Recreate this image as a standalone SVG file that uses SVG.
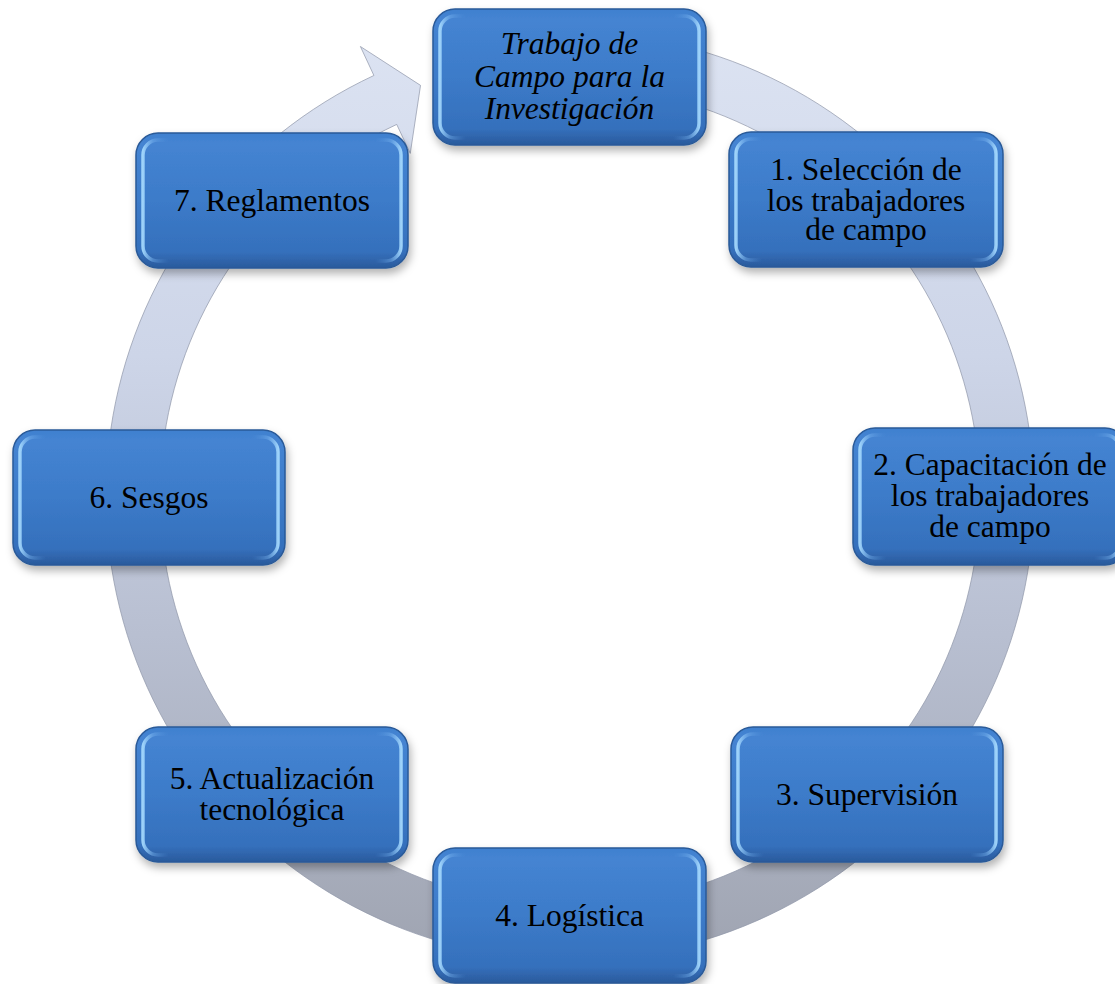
<svg xmlns="http://www.w3.org/2000/svg" width="1115" height="984" viewBox="0 0 1115 984">
  <defs>
    <linearGradient id="ringFill" gradientUnits="userSpaceOnUse" x1="0" y1="30" x2="0" y2="960">
      <stop offset="0" stop-color="#dce3f2"/>
      <stop offset="0.35" stop-color="#cdd5e8"/>
      <stop offset="0.65" stop-color="#b8bfd1"/>
      <stop offset="1" stop-color="#9fa4b1"/>
    </linearGradient>
    <linearGradient id="nodeFill" x1="0" y1="0" x2="0" y2="1">
      <stop offset="0" stop-color="#3f80cf"/>
      <stop offset="0.08" stop-color="#4584d2"/>
      <stop offset="0.5" stop-color="#3c7bc9"/>
      <stop offset="0.88" stop-color="#3570bc"/>
      <stop offset="1" stop-color="#2a5a9c"/>
    </linearGradient>
    <linearGradient id="rimH" x1="0" y1="0" x2="1" y2="0">
      <stop offset="0" stop-color="#a8dcff" stop-opacity="0.9"/>
      <stop offset="0.04" stop-color="#7db8f2" stop-opacity="0.4"/>
      <stop offset="0.1" stop-color="#5c9be0" stop-opacity="0"/>
      <stop offset="0.9" stop-color="#5c9be0" stop-opacity="0"/>
      <stop offset="0.96" stop-color="#7db8f2" stop-opacity="0.4"/>
      <stop offset="1" stop-color="#a8dcff" stop-opacity="0.9"/>
    </linearGradient>
    <filter id="shadow" x="-10%" y="-10%" width="125%" height="135%">
      <feDropShadow dx="2" dy="5" stdDeviation="4" flood-color="#000000" flood-opacity="0.3"/>
    </filter>
  </defs>
  <style>
    .base { fill: url(#nodeFill); stroke: #2a5a98; stroke-width: 1.5; filter: url(#shadow); }
    .rim { fill: none; stroke: url(#rimH); stroke-width: 3.5; }
    .lbl { font-family: "Liberation Serif", "Times New Roman", serif; font-size: 31.5px; fill: #000000; text-anchor: middle; }
    .ital { font-style: italic; }
    .ring { fill: url(#ringFill); stroke: #8e96a8; stroke-width: 1; stroke-opacity: 0.7; }
  </style>

  <rect width="1115" height="984" fill="#ffffff"/>

  <g id="connectors">
    <path class="ring" d="M 610.44 33.77 A 464 464 0 1 1 373.90 75.47 L 360.38 46.47 L 420.54 85.36 L 410.25 153.41 L 396.73 124.41 A 410 410 0 1 0 605.74 87.56 Z"/>
  </g>

  <g id="node-top">
    <rect class="base" x="433" y="9" width="273" height="136" rx="22"/>
    <rect class="rim" x="440" y="16" width="259" height="122" rx="15"/>
    <text class="lbl ital" x="569.5" y="53.5">Trabajo de</text>
    <text class="lbl ital" x="569.5" y="86.5">Campo para la</text>
    <text class="lbl ital" x="569.5" y="119">Investigación</text>
  </g>

  <g id="node-1">
    <rect class="base" x="729" y="132" width="274" height="135" rx="22"/>
    <rect class="rim" x="736" y="139" width="260" height="121" rx="15"/>
    <text class="lbl" x="866" y="180">1. Selección de</text>
    <text class="lbl" x="866" y="210.5">los trabajadores</text>
    <text class="lbl" x="866" y="240">de campo</text>
  </g>

  <g id="node-2">
    <rect class="base" x="853" y="428" width="274" height="137" rx="22"/>
    <rect class="rim" x="860" y="435" width="260" height="123" rx="15"/>
    <text class="lbl" x="990" y="475">2. Capacitación de</text>
    <text class="lbl" x="990" y="506">los trabajadores</text>
    <text class="lbl" x="990" y="537">de campo</text>
  </g>

  <g id="node-3">
    <rect class="base" x="731" y="727" width="272" height="135" rx="22"/>
    <rect class="rim" x="738" y="734" width="258" height="121" rx="15"/>
    <text class="lbl" x="867" y="805">3. Supervisión</text>
  </g>

  <g id="node-4">
    <rect class="base" x="433" y="848" width="273" height="135" rx="22"/>
    <rect class="rim" x="440" y="855" width="259" height="121" rx="15"/>
    <text class="lbl" x="569.5" y="926">4. Logística</text>
  </g>

  <g id="node-5">
    <rect class="base" x="136" y="727" width="272" height="135" rx="22"/>
    <rect class="rim" x="143" y="734" width="258" height="121" rx="15"/>
    <text class="lbl" x="272" y="789">5. Actualización</text>
    <text class="lbl" x="272" y="820">tecnológica</text>
  </g>

  <g id="node-6">
    <rect class="base" x="13" y="430" width="272" height="135" rx="22"/>
    <rect class="rim" x="20" y="437" width="258" height="121" rx="15"/>
    <text class="lbl" x="149" y="508">6. Sesgos</text>
  </g>

  <g id="node-7">
    <rect class="base" x="136" y="133" width="272" height="135" rx="22"/>
    <rect class="rim" x="143" y="140" width="258" height="121" rx="15"/>
    <text class="lbl" x="272" y="211">7. Reglamentos</text>
  </g>
</svg>
